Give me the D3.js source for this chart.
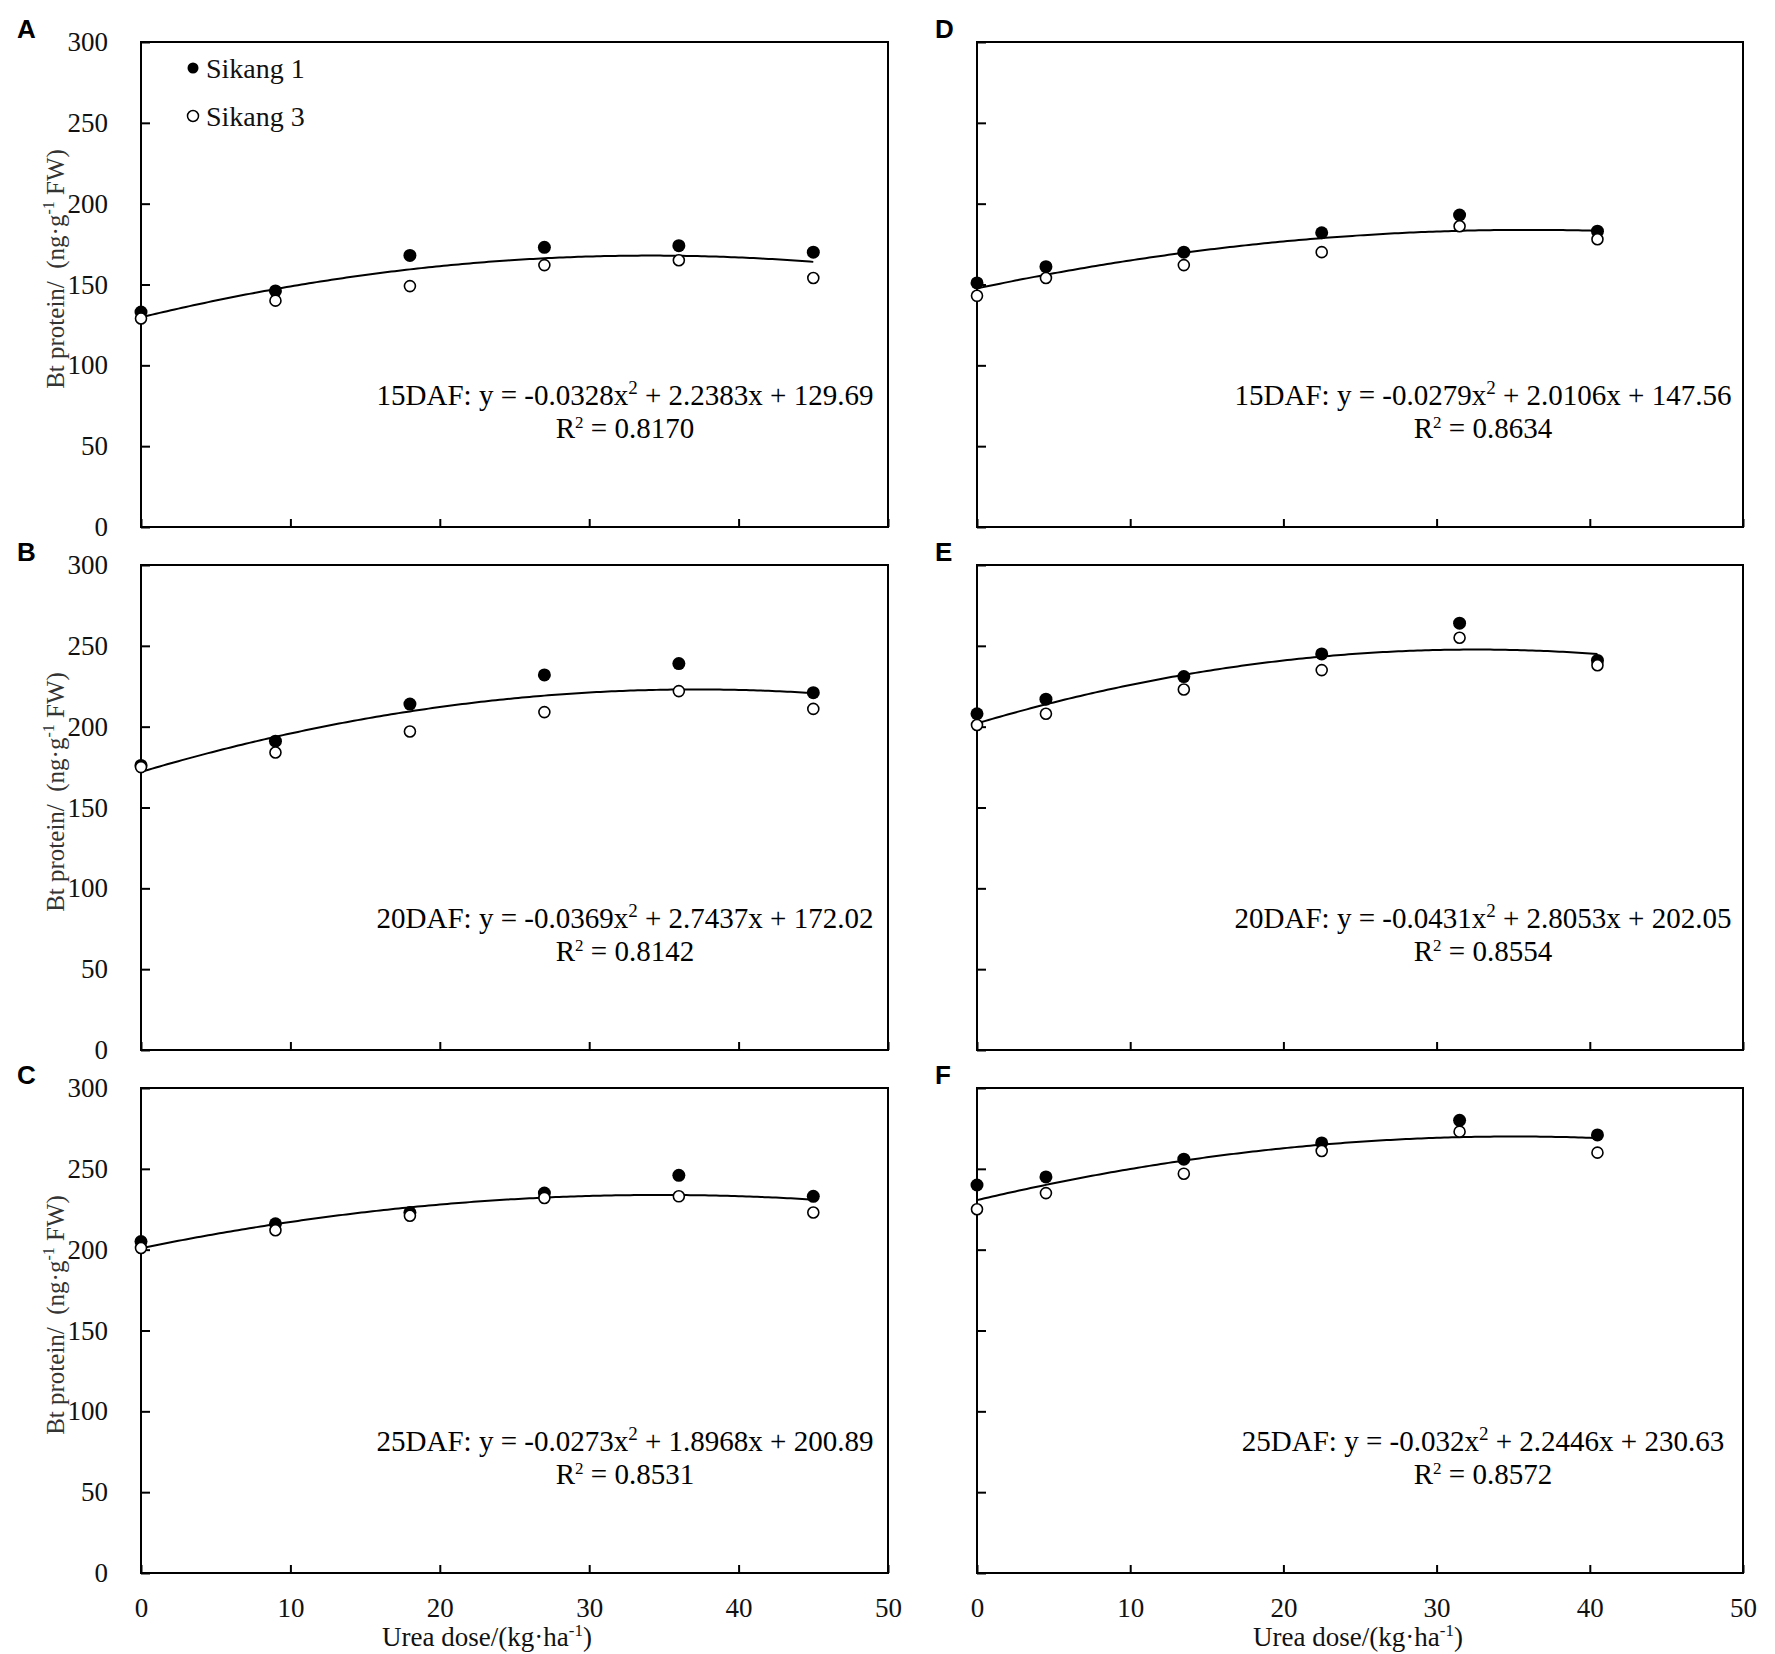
<!DOCTYPE html>
<html>
<head>
<meta charset="utf-8">
<script src="https://cdn.jsdelivr.net/npm/d3@7"></script>
<style>
  body { margin: 0; background: #fff; }
</style>
</head>
<body>
<script>
// urea doses (kg/ha) -- left column vs right column
const doseLeft = [0, 9, 18, 27, 36, 45];
const doseRight = [0, 4.5, 13.5, 22.5, 31.5, 40.5];

// Bt protein (ng/g FW)
const sikang1A = [133, 146, 168, 173, 174, 170];
const sikang3A = [129, 140, 149, 162, 165, 154];
const sikang1B = [176, 191, 214, 232, 239, 221];
const sikang3B = [175, 184, 197, 209, 222, 211];
const sikang1C = [205, 216, 223, 235, 246, 233];
const sikang3C = [201, 212, 221, 232, 233, 223];
const sikang1D = [151, 161, 170, 182, 193, 183];
const sikang3D = [143, 154, 162, 170, 186, 178];
const sikang1E = [208, 217, 231, 245, 264, 241];
const sikang3E = [201, 208, 223, 235, 255, 238];
const sikang1F = [240, 245, 256, 266, 280, 271];
const sikang3F = [225, 235, 247, 261, 273, 260];

// fitted quadratics as printed on the figure: [a, b, c]
const fitA = [-0.0328, 2.2383, 129.69];
const fitB = [-0.0369, 2.7437, 172.02];
const fitC = [-0.0273, 1.8968, 200.89];
const fitD = [-0.0279, 2.0106, 147.56];
const fitE = [-0.0431, 2.8053, 202.05];
const fitF = [-0.032, 2.2446, 230.63];
const r2Values = [0.8170, 0.8142, 0.8531, 0.8634, 0.8554, 0.8572];

const stages = ["15DAF", "20DAF", "25DAF"];
const panelLetters = ["A", "B", "C", "D", "E", "F"];
const seriesNames = ["Sikang 1", "Sikang 3"];
const yTicks = [0, 50, 100, 150, 200, 250, 300];
const xTicks = [0, 10, 20, 30, 40, 50];

const W = 1775, H = 1654;
const serif = "'Liberation Serif', 'Times New Roman', serif";

// layout
const cols = [{left: 141, right: 888, letterX: 17, eqX: 625},
              {left: 977, right: 1743, letterX: 935, eqX: 1483}];
const rowTops = [42, 565, 1088];
const ph = 485;

const panels = [
  {col: 0, row: 0, dose: doseLeft, s1: sikang1A, s3: sikang3A, fit: fitA},
  {col: 0, row: 1, dose: doseLeft, s1: sikang1B, s3: sikang3B, fit: fitB},
  {col: 0, row: 2, dose: doseLeft, s1: sikang1C, s3: sikang3C, fit: fitC},
  {col: 1, row: 0, dose: doseRight, s1: sikang1D, s3: sikang3D, fit: fitD},
  {col: 1, row: 1, dose: doseRight, s1: sikang1E, s3: sikang3E, fit: fitE},
  {col: 1, row: 2, dose: doseRight, s1: sikang1F, s3: sikang3F, fit: fitF}
];

const svg = d3.select("body").append("svg")
  .attr("width", W)
  .attr("height", H);

panels.forEach((p, i) => {
  const c = cols[p.col];
  const top = rowTops[p.row];
  const x = d3.scaleLinear().domain([0, 50]).range([c.left, c.right]);
  const y = d3.scaleLinear().domain([0, 300]).range([top + ph, top]);
  const g = svg.append("g");

  // y axis (ticks pointing inward)
  const yAxis = d3.axisLeft(y).tickValues(yTicks)
    .tickSizeInner(-9).tickSizeOuter(0).tickPadding(33);
  if (p.col === 1) yAxis.tickFormat("");
  const ya = g.append("g").attr("transform", `translate(${c.left},0)`).call(yAxis);
  ya.select(".domain").remove();

  // x axis
  const xAxis = d3.axisBottom(x).tickValues(xTicks)
    .tickSizeInner(-8).tickSizeOuter(0).tickPadding(25);
  if (p.row !== 2) xAxis.tickFormat("");
  const xa = g.append("g").attr("transform", `translate(0,${top + ph})`).call(xAxis);
  xa.select(".domain").remove();

  g.selectAll(".tick line").attr("stroke", "#000").attr("stroke-width", 2);
  g.selectAll(".tick text")
    .attr("font-family", serif)
    .attr("font-size", 27)
    .attr("fill", "#111");

  // frame
  g.append("rect")
    .attr("x", c.left).attr("y", top)
    .attr("width", c.right - c.left).attr("height", ph)
    .attr("fill", "none").attr("stroke", "#000").attr("stroke-width", 2);

  // fitted curve
  const [a, b, k] = p.fit;
  const xmax = d3.max(p.dose);
  const curve = d3.range(0, xmax + 0.001, 0.25).map(v => [v, a * v * v + b * v + k]);
  g.append("path")
    .datum(curve)
    .attr("fill", "none")
    .attr("stroke", "#000")
    .attr("stroke-width", 2)
    .attr("d", d3.line().x(d => x(d[0])).y(d => y(d[1])));

  // points: Sikang 1 filled, Sikang 3 open
  g.selectAll(".s1").data(p.s1).join("circle")
    .attr("cx", (d, j) => x(p.dose[j]))
    .attr("cy", d => y(d))
    .attr("r", 6.5)
    .attr("fill", "#000");
  g.selectAll(".s3").data(p.s3).join("circle")
    .attr("cx", (d, j) => x(p.dose[j]))
    .attr("cy", d => y(d))
    .attr("r", 5.5)
    .attr("fill", "#fff")
    .attr("stroke", "#000")
    .attr("stroke-width", 1.6);

  // equation + R2
  const eq = g.append("text")
    .attr("x", c.eqX).attr("y", top + 363)
    .attr("text-anchor", "middle")
    .attr("font-family", serif).attr("font-size", 29).attr("fill", "#000");
  eq.append("tspan").text(`${stages[p.row]}: y = ${a}x`);
  eq.append("tspan").attr("dy", -11).attr("font-size", 19).text("2");
  eq.append("tspan").attr("dy", 11).text(` + ${b}x + ${k}`);

  const r2 = g.append("text")
    .attr("x", c.eqX).attr("y", top + 396)
    .attr("text-anchor", "middle")
    .attr("font-family", serif).attr("font-size", 29).attr("fill", "#000");
  r2.append("tspan").text("R");
  r2.append("tspan").attr("dy", -10).attr("font-size", 17).text("2");
  r2.append("tspan").attr("dy", 10).text(` = ${d3.format(".4f")(r2Values[i])}`);

  // panel letter
  svg.append("text")
    .attr("x", c.letterX).attr("y", top - 4)
    .attr("font-family", "'Liberation Sans', Arial, sans-serif")
    .attr("font-weight", "bold").attr("font-size", 26)
    .text(panelLetters[i]);

  // y label, left column only
  if (p.col === 0) {
    const yl = svg.append("text")
      .attr("transform", `translate(64,${top + 227}) rotate(-90)`)
      .attr("text-anchor", "middle")
      .attr("font-family", serif).attr("font-size", 25).attr("fill", "#333");
    yl.append("tspan").text("Bt protein/\u00A0 (ng·g");
    yl.append("tspan").attr("dy", -10).attr("font-size", 16).text("-1");
    yl.append("tspan").attr("dy", 10).text(" FW)");
  }

  // x label, bottom row only
  if (p.row === 2) {
    const xl = svg.append("text")
      .attr("x", p.col === 0 ? 487 : 1358).attr("y", 1646)
      .attr("text-anchor", "middle")
      .attr("font-family", serif).attr("font-size", 27).attr("fill", "#111");
    xl.append("tspan").text("Urea dose/(kg·ha");
    xl.append("tspan").attr("dy", -10).attr("font-size", 17).text("-1");
    xl.append("tspan").attr("dy", 10).text(")");
  }
});

// legend in panel A
const legendY = [68, 116];
seriesNames.forEach((name, j) => {
  svg.append("circle")
    .attr("cx", 193).attr("cy", legendY[j]).attr("r", 5.5)
    .attr("fill", j === 0 ? "#000" : "#fff")
    .attr("stroke", "#000").attr("stroke-width", j === 0 ? 0 : 1.5);
  svg.append("text")
    .attr("x", 206).attr("y", legendY[j] + 10)
    .attr("font-family", serif).attr("font-size", 28).attr("fill", "#111")
    .text(name);
});
</script>
</body>
</html>
